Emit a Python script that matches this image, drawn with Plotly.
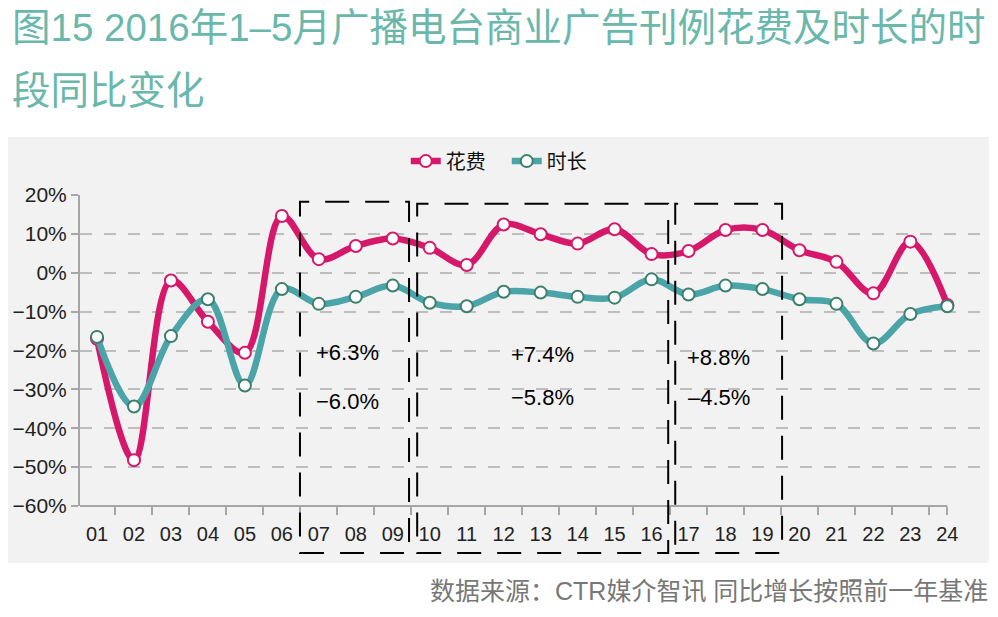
import plotly.graph_objects as go

# ---- data ----
slots = ["01","02","03","04","05","06","07","08","09","10","11","12",
         "13","14","15","16","17","18","19","20","21","22","23","24"]
spend = [-17.0, -48.2, -2.0, -12.6, -20.6, 14.6, 3.5, 6.9, 8.8, 6.4, 2.0, 12.4,
         9.9, 7.5, 11.2, 4.8, 5.6, 11.0, 11.0, 5.8, 2.8, -5.3, 8.0, -8.3]
duration = [-16.5, -34.4, -16.3, -6.8, -29.0, -4.2, -8.0, -6.2, -3.3, -7.7, -8.6, -4.9,
            -5.1, -6.2, -6.4, -1.7, -5.6, -3.3, -4.2, -6.8, -8.0, -18.2, -10.6, -8.6]
period_spend = ["+6.3%", "+7.4%", "+8.8%"]
period_duration = ["−6.0%", "−5.8%", "–4.5%"]
y_ticks = [-0.6, -0.5, -0.4, -0.3, -0.2, -0.1, 0.0, 0.1, 0.2]

FONT = "Liberation Sans, Noto Sans CJK SC, sans-serif"
PINK = "#D6186A"
TEAL = "#4AA4A8"
TEAL_EDGE = "#3C7F6C"

xs = list(range(len(slots)))
sp = [v / 100 for v in spend]
du = [v / 100 for v in duration]

fig = go.Figure()
fig.add_trace(go.Scatter(
    x=xs, y=sp, name="花费", mode="lines+markers",
    line=dict(color=PINK, width=6.5, shape="spline", smoothing=1.0),
    marker=dict(size=12, color="white", line=dict(color=PINK, width=2)),
))
fig.add_trace(go.Scatter(
    x=xs, y=du, name="时长", mode="lines+markers",
    line=dict(color=TEAL, width=6.5, shape="spline", smoothing=1.0),
    marker=dict(size=12, color="white", line=dict(color=TEAL_EDGE, width=2)),
))

shapes = []
# grey panel
shapes.append(dict(type="rect", xref="paper", yref="paper", x0=-0.0793, x1=1.001,
                   y0=-0.1833, y1=1.1865, fillcolor="#f2f2f2", line=dict(width=0),
                   layer="below"))
# x axis line
shapes.append(dict(type="line", xref="x", yref="paper", x0=-0.46, x1=23.0, y0=0, y1=0,
                   line=dict(color="#a6a6a6", width=2)))
# dashed period boxes
boxes = [(5.49, 8.44, 0.978), (8.66, 15.45, 0.972), (15.64, 18.53, 0.972)]
for x0, x1, yt in boxes:
    shapes.append(dict(type="rect", xref="x", yref="paper", x0=x0, x1=x1, y0=-0.151, y1=yt,
                       line=dict(color="black", width=2, dash="24px,16px"),
                       fillcolor="rgba(0,0,0,0)"))

annotations = []
ann_x = [6.78, 12.05, 16.82]
for i, t in enumerate(period_spend):
    annotations.append(dict(x=ann_x[i], y=[-0.204, -0.209, -0.217][i], xref="x", yref="y",
                            text=t, showarrow=False, font=dict(size=22, color="black", family=FONT)))
for i, t in enumerate(period_duration):
    annotations.append(dict(x=ann_x[i], y=[-0.332, -0.320, -0.320][i], xref="x", yref="y",
                            text=t, showarrow=False, font=dict(size=22, color="black", family=FONT)))

annotations.append(dict(x=-0.0771, y=1.54, xref="paper", yref="paper", xanchor="left",
                        yanchor="middle", showarrow=False,
                        text="图15 2016年1–5月广播电台商业广告刊例花费及时长的时",
                        font=dict(size=38.5, color="#6AB8AC", family=FONT)))
annotations.append(dict(x=-0.0771, y=1.336, xref="paper", yref="paper", xanchor="left",
                        yanchor="middle", showarrow=False, text="段同比变化",
                        font=dict(size=38.5, color="#6AB8AC", family=FONT)))
annotations.append(dict(x=1.0022, y=-0.273, xref="paper", yref="paper", xanchor="right",
                        yanchor="middle", showarrow=False,
                        text="数据来源：CTR媒介智讯 同比增长按照前一年基准",
                        font=dict(size=25, color="#777777", family=FONT)))

fig.update_layout(
    width=998, height=617,
    margin=dict(l=80, r=10, t=195, b=111),
    paper_bgcolor="white", plot_bgcolor="rgba(0,0,0,0)",
    font=dict(family=FONT, size=20, color="#222222"),
    showlegend=True,
    legend=dict(orientation="h", x=0.47, y=1.109, xanchor="center", yanchor="middle",
                font=dict(size=20, color="#111111", family=FONT), bgcolor="rgba(0,0,0,0)",
                entrywidth=56, entrywidthmode="pixels"),
    shapes=shapes, annotations=annotations,
)
fig.update_xaxes(
    range=[-0.46, 24.1], tickmode="array", tickvals=xs, ticktext=slots,
    ticks="", showgrid=False, zeroline=False, showline=False,
    tickfont=dict(size=20, color="#222222"), ticklabelstandoff=14,
    minor=dict(tickmode="array", tickvals=[i - 0.5 for i in range(24)] + [23.0],
               ticks="outside", ticklen=8, tickwidth=2, tickcolor="#a6a6a6", showgrid=False),
)
fig.update_yaxes(
    range=[-0.6, 0.2], tickmode="array", tickvals=y_ticks, tickformat=".0%",
    showgrid=True, gridcolor="#bdbdbd", gridwidth=1.5, griddash="12px,12px",
    zeroline=False, showline=True, linecolor="#a6a6a6", linewidth=2,
    ticks="outside", ticklen=7, tickwidth=2, tickcolor="#a6a6a6",
    tickfont=dict(size=21, color="#222222"),
)

fig.write_html("out.html", config={"displayModeBar": False},
               post_script="document.body.style.margin='0';document.body.style.overflow='hidden';")
